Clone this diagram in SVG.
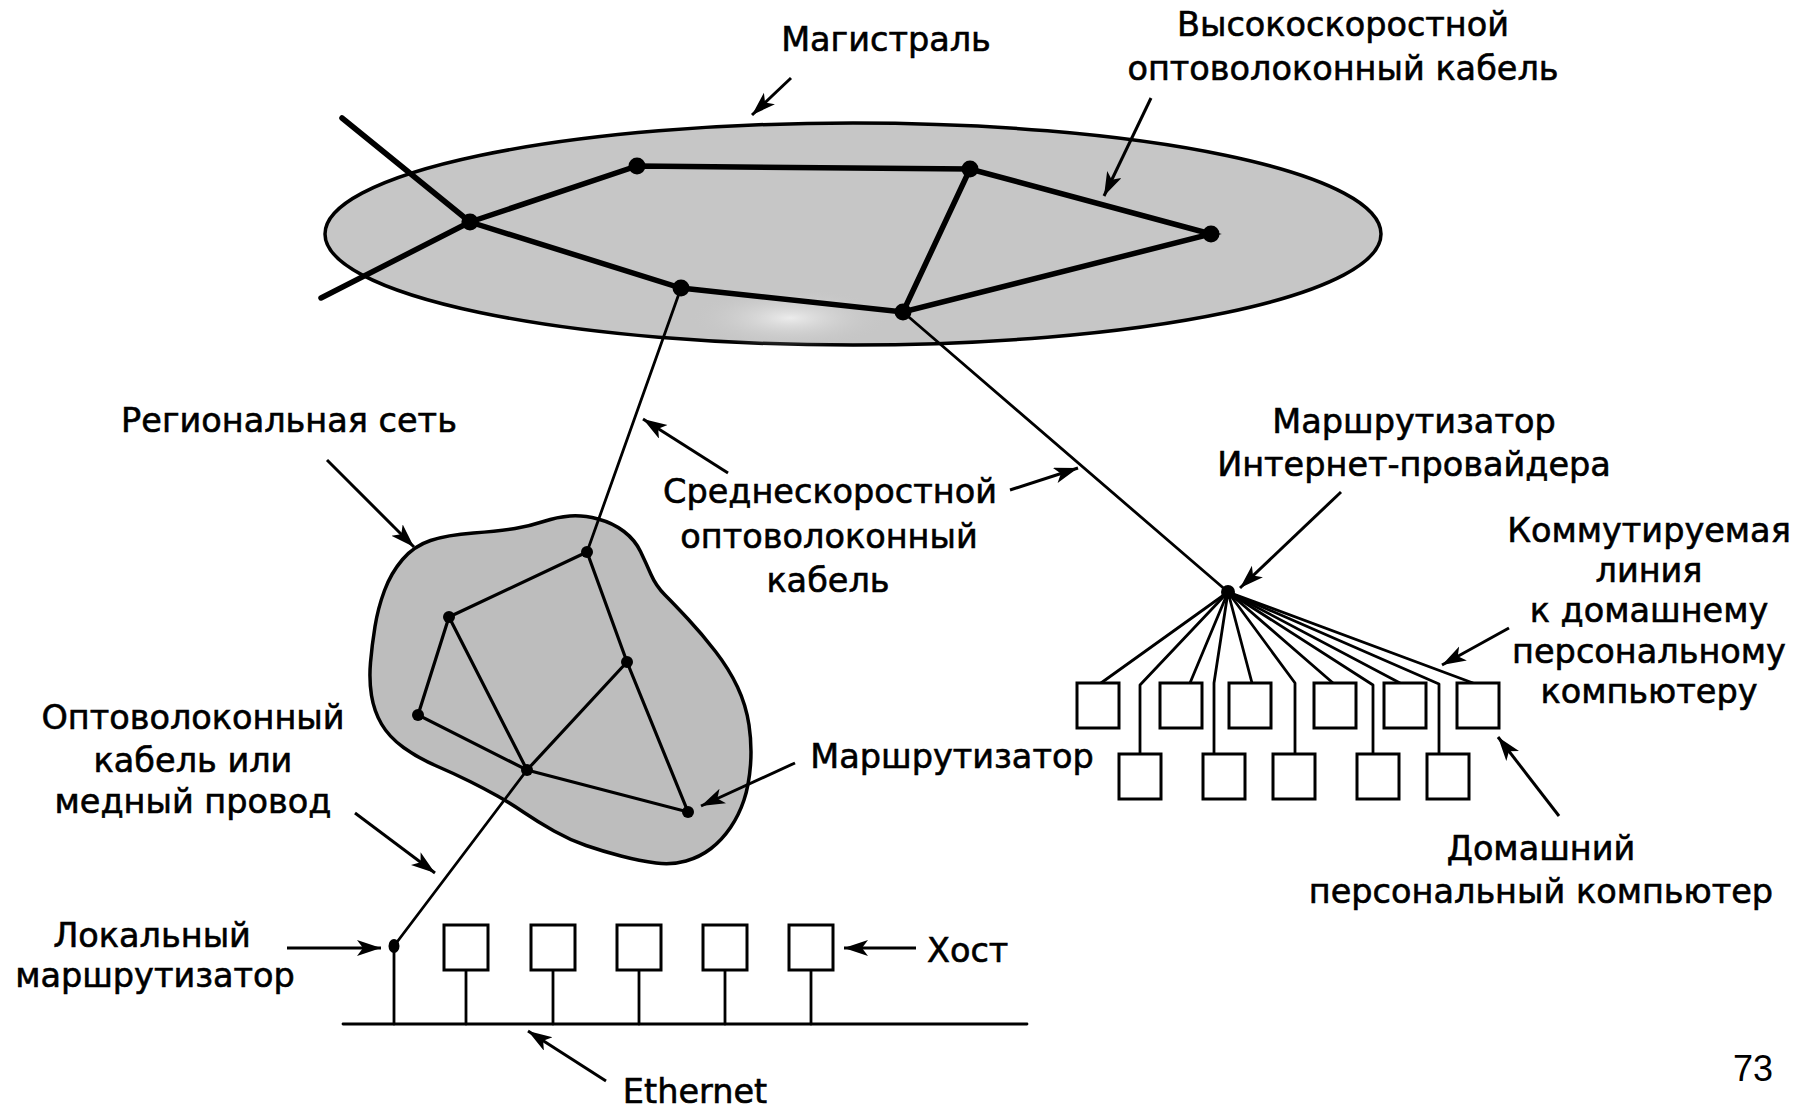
<svg xmlns="http://www.w3.org/2000/svg" width="1806" height="1109" viewBox="0 0 1806 1109">
<style>
text{font-family:"DejaVu Sans","Liberation Sans",sans-serif;font-size:33.5px;fill:#000;stroke:#000;stroke-width:0.6;text-anchor:middle}
.bb{stroke:#000;stroke-width:5.5;fill:none;stroke-linecap:round}
.ln{stroke:#000;stroke-width:2.8;fill:none;stroke-linecap:round;stroke-linejoin:round}
.rl{stroke:#000;stroke-width:3.2;fill:none;stroke-linecap:round}
.ar{stroke:#000;stroke-width:3;fill:none;marker-end:url(#ah)}
.box{fill:#fff;stroke:#000;stroke-width:3}
.dot{fill:#000}
</style>
<defs>
<marker id="ah" markerUnits="userSpaceOnUse" markerWidth="26" markerHeight="18" refX="24" refY="8" orient="auto">
<path d="M0,0 L24,8 L0,16 L6,8 Z" fill="#000"/>
</marker>
<radialGradient id="light" cx="0.5" cy="0.5" r="0.5">
<stop offset="0" stop-color="#ececec"/>
<stop offset="1" stop-color="#c6c6c6" stop-opacity="0"/>
</radialGradient>
</defs>
<rect width="1806" height="1109" fill="#fff"/>

<g id="backbone">
<ellipse cx="853" cy="234" rx="528" ry="111" fill="#c6c6c6" stroke="#000" stroke-width="3.5"/>
<ellipse cx="790" cy="318" rx="100" ry="30" fill="url(#light)"/>
</g>
<g id="regional-network">
<path d="M402.5,559.5 Q414,546 430.5,540.5 Q447,535 473.5,533 Q500,531 515,528.5 Q530,526 543.5,521.5 Q557,517 570,516 Q583,515 598,519 Q613,523 624,531.5 Q635,540 640.5,551.5 Q646,563 651,574.5 Q656,586 665,595 Q674,604 688,619 Q702,634 715.5,651.5 Q729,669 737.5,687 Q746,705 749,725 Q752,745 750.5,765 Q749,785 744,800 Q739,815 730.5,827.5 Q722,840 711,848.5 Q700,857 686,861 Q672,865 656,863 Q640,861 621,856 Q602,851 586,845.5 Q570,840 554,831 Q538,822 524,812.5 Q510,803 497.5,796 Q485,789 470,781.5 Q455,774 436.5,766 Q418,758 403.5,747.5 Q389,737 381.5,724 Q374,711 371.5,695.5 Q369,680 370.5,662.5 Q372,645 375,626.5 Q378,608 384.5,590.5 Q391,573 402.5,559.5 Z" fill="#bdbdbd" stroke="#000" stroke-width="3.5"/>
</g>

<g id="connectors">
<path class="bb" d="M342,118 L470,222"/>
<path class="bb" d="M321,298 L470,222"/>
<path class="bb" d="M470,222 L637,166 L970,169 L1211,234 L903,312 L681,288 Z"/>
<path class="bb" d="M970,169 L903,312"/>
<path class="ln" d="M681,288 L587,552"/>
<path class="ln" d="M903,312 L1228,592"/>
<path class="rl" d="M587,552 L449,617 L418,715 L527,770 L688,812 L627,662 L587,552"/>
<path class="rl" d="M449,617 L527,770 L627,662"/>
<path class="ln" d="M527,770 L394,946"/>
<path class="ln" d="M343,1024 H1027"/>
<path class="ln" d="M394,946 V1024 M466,970 V1024 M553,970 V1024 M639,970 V1024 M725,970 V1024 M811,970 V1024"/>
<path class="ln" d="M1228,592 L1101,683 M1228,592 L1190,683 M1228,592 L1252,683 M1228,592 L1333,683 M1228,592 L1400,683 M1228,592 L1473,683"/>
<path class="ln" d="M1228,592 L1140,685 V754 M1228,592 L1214,683 V754 M1228,592 L1295,683 V754 M1228,592 L1373,685 V754 M1228,592 L1439,684 V754"/>
<path class="ar" d="M791,78 L752,115"/>
<path class="ar" d="M1151,98 L1104,196"/>
<path class="ar" d="M327,460 L414,547"/>
<path class="ar" d="M728,473 L643,419"/>
<path class="ar" d="M1010,490 L1078,468"/>
<path class="ar" d="M1341,492 L1240,588"/>
<path class="ar" d="M1509,628 L1442,665"/>
<path class="ar" d="M795,763 L701,806"/>
<path class="ar" d="M355,813 L435,873"/>
<path class="ar" d="M287,948 L381,948"/>
<path class="ar" d="M916,948 L844,948"/>
<path class="ar" d="M606,1081 L528,1031"/>
<path class="ar" d="M1559,816 L1498,737"/>
</g>

<g id="backbone-routers">
<circle class="dot" cx="470" cy="222" r="8.5"/>
<circle class="dot" cx="637" cy="166" r="8.5"/>
<circle class="dot" cx="970" cy="169" r="8.5"/>
<circle class="dot" cx="1211" cy="234" r="8.5"/>
<circle class="dot" cx="903" cy="312" r="8.5"/>
<circle class="dot" cx="681" cy="288" r="8.5"/>
</g>
<g id="regional-routers">
<circle class="dot" cx="587" cy="552" r="6"/>
<circle class="dot" cx="449" cy="617" r="6"/>
<circle class="dot" cx="627" cy="662" r="6"/>
<circle class="dot" cx="418" cy="715" r="6"/>
<circle class="dot" cx="527" cy="770" r="6"/>
<circle class="dot" cx="688" cy="812" r="6"/>
</g>
<g id="isp-router"><circle class="dot" cx="1228" cy="592" r="7"/></g>
<g id="local-router"><ellipse class="dot" cx="394" cy="946" rx="5.5" ry="7"/></g>

<g id="hosts">
<rect class="box" x="444" y="925" width="44" height="45"/>
<rect class="box" x="531" y="925" width="44" height="45"/>
<rect class="box" x="617" y="925" width="44" height="45"/>
<rect class="box" x="703" y="925" width="44" height="45"/>
<rect class="box" x="789" y="925" width="44" height="45"/>
</g>
<g id="home-pcs">
<rect class="box" x="1077" y="683" width="42" height="45"/>
<rect class="box" x="1160" y="683" width="42" height="45"/>
<rect class="box" x="1229" y="683" width="42" height="45"/>
<rect class="box" x="1314" y="683" width="42" height="45"/>
<rect class="box" x="1384" y="683" width="42" height="45"/>
<rect class="box" x="1457" y="683" width="42" height="45"/>
<rect class="box" x="1119" y="754" width="42" height="45"/>
<rect class="box" x="1203" y="754" width="42" height="45"/>
<rect class="box" x="1273" y="754" width="42" height="45"/>
<rect class="box" x="1357" y="754" width="42" height="45"/>
<rect class="box" x="1427" y="754" width="42" height="45"/>
</g>

<g id="labels">
<text x="886" y="51">Магистраль</text>
<text x="1343" y="36">Высокоскоростной</text>
<text x="1343" y="80">оптоволоконный кабель</text>
<text x="289" y="432">Региональная сеть</text>
<text x="830" y="503">Среднескоростной</text>
<text x="829" y="548">оптоволоконный</text>
<text x="828" y="592">кабель</text>
<text x="1414" y="433">Маршрутизатор</text>
<text x="1414" y="476">Интернет-провайдера</text>
<text x="1649" y="542">Коммутируемая</text>
<text x="1649" y="582">линия</text>
<text x="1649" y="622">к домашнему</text>
<text x="1649" y="663">персональному</text>
<text x="1649" y="703">компьютеру</text>
<text x="193" y="729">Оптоволоконный</text>
<text x="193" y="772">кабель или</text>
<text x="193" y="813">медный провод</text>
<text x="952" y="768">Маршрутизатор</text>
<text x="1541" y="860">Домашний</text>
<text x="1541" y="903">персональный компьютер</text>
<text x="152" y="947">Локальный</text>
<text x="155" y="987">маршрутизатор</text>
<text x="927" y="962" style="text-anchor:start">Хост</text>
<text x="695" y="1103">Ethernet</text>
<text x="1753" y="1081" style="font-family:'Liberation Sans',sans-serif;font-size:36px;stroke-width:0">73</text>
</g>
</svg>
